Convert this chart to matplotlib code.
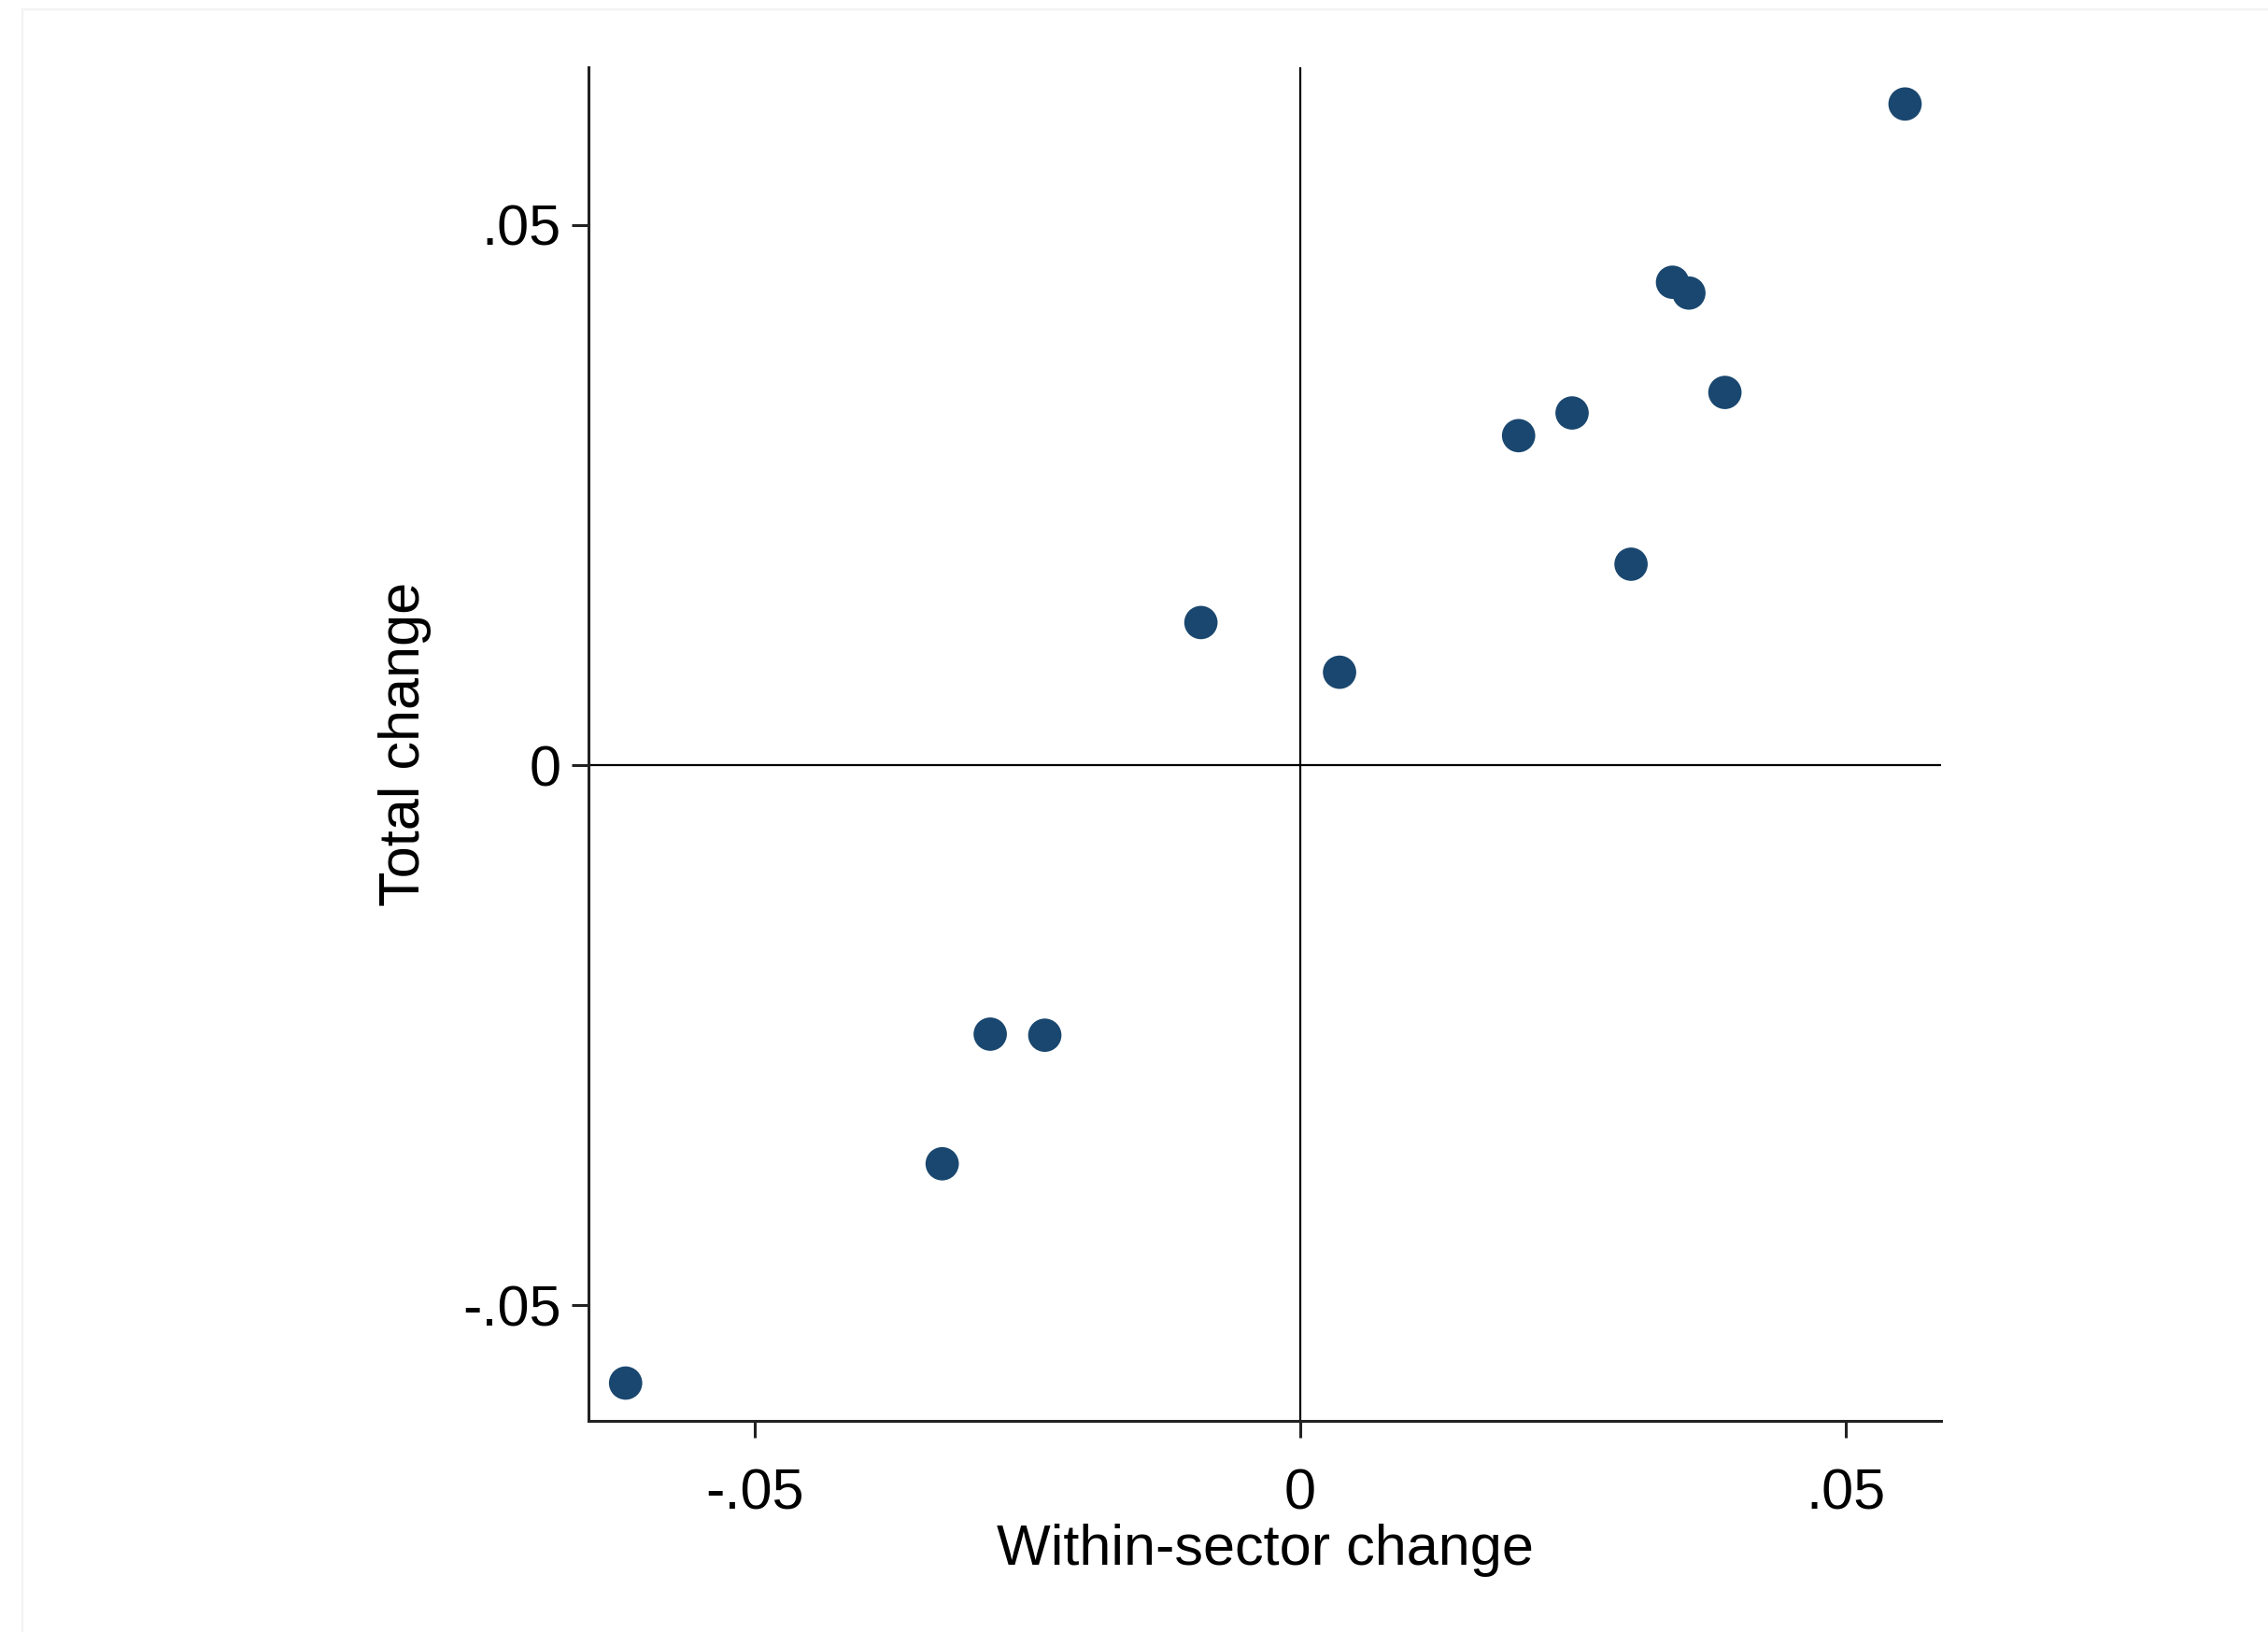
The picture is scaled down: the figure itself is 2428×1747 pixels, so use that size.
import matplotlib
matplotlib.use("Agg")
import matplotlib.pyplot as plt
from matplotlib.lines import Line2D

# values
within_change = [0.0554, 0.0341, 0.0356, 0.0389, 0.0249, 0.0200, 0.0303,
                 -0.0091, 0.0036, -0.0284, -0.0234, -0.0328, -0.0618]
total_change = [0.0612, 0.0447, 0.0437, 0.0345, 0.0326, 0.0305, 0.0186,
                0.0132, 0.0086, -0.0249, -0.0250, -0.0369, -0.0572]
tick_values = [-0.05, 0, 0.05]
tick_labels = ["-.05", "0", ".05"]

plt.rcParams['font.family'] = ['Liberation Sans', 'DejaVu Sans']

W, H = 2428, 1747
fig = plt.figure(figsize=(W / 100, H / 100), dpi=100)
fig.patch.set_facecolor("white")

# axes box in pixels: left 630, right 2078, top 72, bottom 1521
ax = fig.add_axes([630 / W, 1 - 1521 / H, (2078 - 630) / W, (1521 - 72) / H])

ax.axvline(0, color="black", lw=1.6, zorder=1)
ax.axhline(0, color="black", lw=1.6, zorder=1)
ax.scatter(within_change, total_change, s=660, color="#1a476f",
           edgecolors="none", zorder=3)

ax.set_xlim(-0.0652, 0.0587)
ax.set_ylim(-0.0607, 0.0646)
ax.set_xticks(tick_values)
ax.set_xticklabels(tick_labels)
ax.set_yticks(tick_values)
ax.set_yticklabels(tick_labels)

for side in ["top", "right"]:
    ax.spines[side].set_visible(False)
for side in ["left", "bottom"]:
    ax.spines[side].set_linewidth(2.2)
    ax.spines[side].set_color("#222222")

ax.tick_params(axis="both", length=13, width=2.2, color="#222222",
               labelsize=44, pad=8)
ax.tick_params(axis="x", pad=23)

ax.set_xlabel("Within-sector change", fontsize=44, labelpad=2)
ax.set_ylabel("Total change", fontsize=44, labelpad=24)

# faint frame around the exported graph
fig.add_artist(Line2D([24 / W, 1], [1 - 10 / H, 1 - 10 / H],
                      transform=fig.transFigure, color="#f2f2f2", lw=1.5))
fig.add_artist(Line2D([24 / W, 24 / W], [0, 1 - 10 / H],
                      transform=fig.transFigure, color="#f2f2f2", lw=1.5))

fig.savefig("out.png", dpi=100, facecolor="white")
